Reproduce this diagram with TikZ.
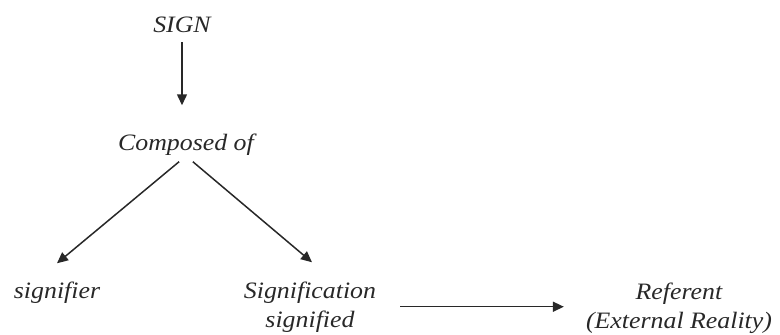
\documentclass[tikz,border=0pt]{standalone}
\usepackage{fontspec}
\setmainfont{Liberation Serif}[FakeStretch=1.1]
\usetikzlibrary{arrows.meta}
\definecolor{inkgray}{RGB}{40,40,40}

\begin{document}
\begin{tikzpicture}[x=1pt, y=-1pt,
  term/.style={inner sep=2pt, align=center, text=inkgray,
               font=\fontsize{23.5}{29}\selectfont\itshape},
  arrow/.style={-{Triangle[length=11pt,width=10pt]}, line width=1.5pt, color=inkgray}
]
\useasboundingbox (0,0) rectangle (780,335);
\node[term, anchor=base] (sign) at (182,32)  {SIGN};
\node[term, anchor=base] (comp) at (186,150) {Composed of};
\node[term, anchor=base] (sfr)  at (57,298)  {signifier};
\node[term, anchor=base] (sig)  at (310,327) {Signification\\signified};
\node[term, anchor=base] (ref)  at (679,328) {Referent\\(External Reality)};
\draw[arrow, shorten <=8pt, shorten >=26pt] (sign) -- (sign |- comp.north);
\draw[arrow, shorten <=7pt] ([xshift=-1.5pt]comp.south) -- ([yshift=16pt]sfr.north);
\draw[arrow, shorten <=7pt] ([xshift=1.5pt]comp.south) -- ([xshift=2pt,yshift=17pt]sig.north);
\draw[arrow, shorten <=22pt, shorten >=20pt] (sig.east) -- (ref.west |- sig.east);
\end{tikzpicture}
\end{document}
